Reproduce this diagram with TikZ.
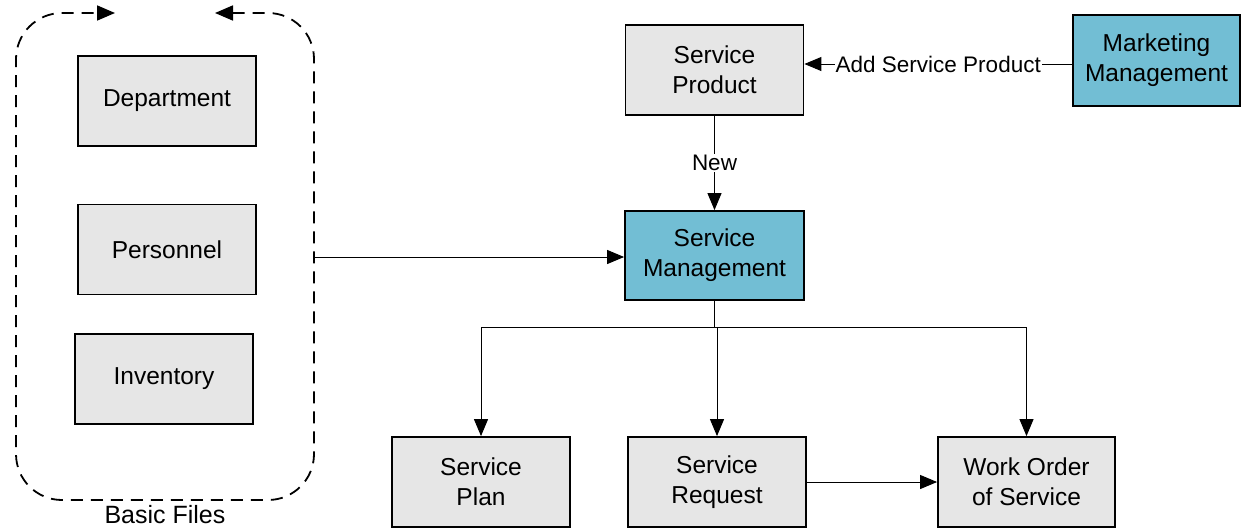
\documentclass[tikz,border=0pt]{standalone}
\usepackage{fontspec}
\setmainfont{Liberation Sans}
\usetikzlibrary{arrows.meta}
\definecolor{boxgray}{RGB}{230,230,230}
\definecolor{boxblue}{RGB}{114,190,212}
\begin{document}
\begin{tikzpicture}[x=1pt,y=-1pt,
  box/.style={draw=black,line width=1.8pt,fill=boxgray,minimum width=178pt,minimum height=90pt,inner sep=0pt,align=center,font=\fontsize{24.5}{30}\selectfont},
  bluebox/.style={box,fill=boxblue},
  conn/.style={line width=1pt,-{Triangle[length=17pt,width=14pt]}},
  lbl/.style={font=\fontsize{22.5}{26}\selectfont,fill=white,inner sep=1pt}]
\useasboundingbox (0,0) rectangle (1244,528);
% left group
\node[box] (dep) at (167,101) {Department};
\node[box] (per) at (167,249.5) {Personnel};
\node[box] (inv) at (164,379) {Inventory};
\draw[line width=1.8pt,dash pattern=on 12pt off 8pt,rounded corners=46pt,
  {Triangle[length=18pt,width=15pt]}-{Triangle[length=18pt,width=15pt]}]
  (215,13) -- (314,13) -- (314,500) -- (16,500) -- (16,13) -- (115,13);
\node[font=\fontsize{25}{28}\selectfont] (bf) at (165,515) {Basic Files};
\coordinate (bfE) at (315,257);
% right side
\node[box] (sp) at (714.5,70) {Service\\Product};
\node[bluebox,minimum width=167pt,minimum height=91pt] (mm) at (1156.5,60.5) {Marketing\\Management};
\node[bluebox,minimum width=179pt,minimum height=89pt] (sm) at (714.5,255.5) {Service\\Management};
\node[box] (plan) at (481,482) {Service\\Plan};
\node[box] (req) at (717,482) {Service\\Request};
\node[box,minimum width=177pt] (wo) at (1026.5,482) {Work Order\\of Service};
% connectors
\coordinate (ay) at (0,64);
\draw[conn] (mm.west |- ay) -- node[lbl,inner sep=1pt] {Add Service Product} (sp.east |- ay);
\draw[conn] (sp.south) -- node[lbl] {New} (sm.north);
\draw[conn] (bfE) -- (sm.west |- bfE);
\coordinate (j) at (714.5,327);
\draw[line width=1pt] (sm.south) -- (j);
\draw[conn] (j) -| (plan.north);
\draw[conn] (j) -- (j -| req.north) -- (req.north);
\draw[conn] (j) -| (wo.north);
\draw[conn] (req.east) -- (wo.west);
\end{tikzpicture}
\end{document}
